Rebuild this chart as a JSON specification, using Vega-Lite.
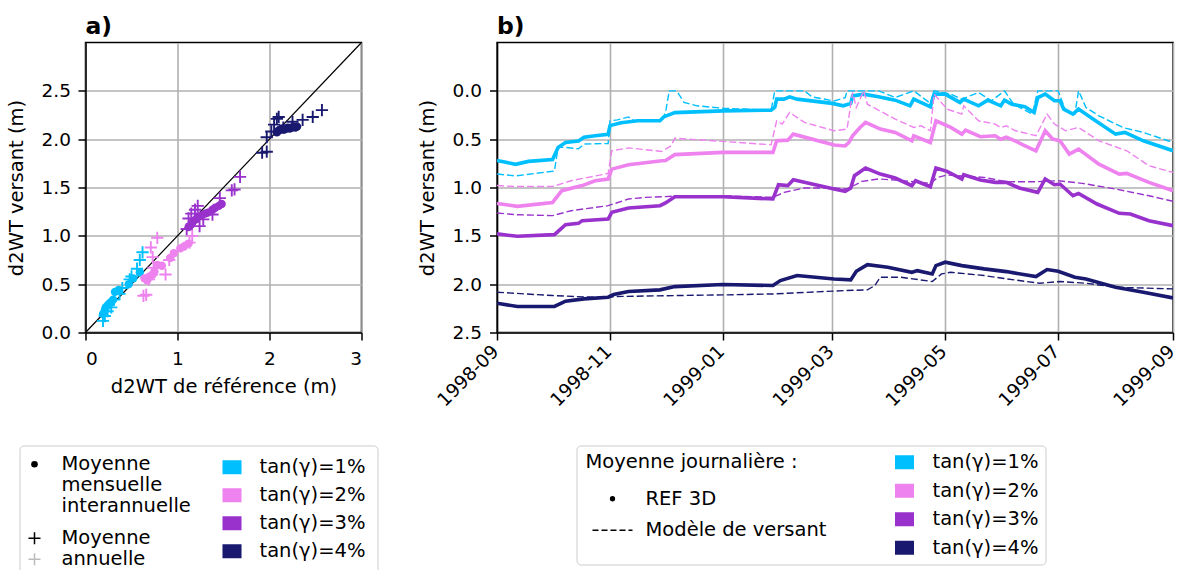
{
"$schema": "https://vega.github.io/schema/vega-lite/v6.json",
"padding": {"left": 4.5, "top": 13.5, "right": 0, "bottom": 0},
"background": "white",
"spacing": 135.5,
"bounds": "flush",
"resolve": {"scale": {"color": "independent", "fill": "independent", "stroke": "independent", "shape": "independent"}, "legend": {"color": "independent", "fill": "independent", "stroke": "independent", "shape": "independent"}},
"datasets": {
"mon": [
{"x":0.19,"y":0.19,"s":"tan(γ)=1%"},{"x":0.21,"y":0.23,"s":"tan(γ)=1%"},{"x":0.22,"y":0.26,"s":"tan(γ)=1%"},{"x":0.24,"y":0.28,"s":"tan(γ)=1%"},{"x":0.26,"y":0.30,"s":"tan(γ)=1%"},{"x":0.28,"y":0.31,"s":"tan(γ)=1%"},{"x":0.30,"y":0.34,"s":"tan(γ)=1%"},{"x":0.32,"y":0.42,"s":"tan(γ)=1%"},{"x":0.36,"y":0.44,"s":"tan(γ)=1%"},{"x":0.47,"y":0.50,"s":"tan(γ)=1%"},{"x":0.52,"y":0.56,"s":"tan(γ)=1%"},{"x":0.59,"y":0.62,"s":"tan(γ)=1%"},
{"x":0.64,"y":0.56,"s":"tan(γ)=2%"},{"x":0.67,"y":0.54,"s":"tan(γ)=2%"},{"x":0.70,"y":0.58,"s":"tan(γ)=2%"},{"x":0.73,"y":0.60,"s":"tan(γ)=2%"},{"x":0.75,"y":0.63,"s":"tan(γ)=2%"},{"x":0.78,"y":0.70,"s":"tan(γ)=2%"},{"x":0.83,"y":0.69,"s":"tan(γ)=2%"},{"x":0.92,"y":0.77,"s":"tan(γ)=2%"},{"x":0.96,"y":0.82,"s":"tan(γ)=2%"},{"x":1.03,"y":0.87,"s":"tan(γ)=2%"},{"x":1.07,"y":0.89,"s":"tan(γ)=2%"},{"x":1.12,"y":0.92,"s":"tan(γ)=2%"},
{"x":1.12,"y":1.09,"s":"tan(γ)=3%"},{"x":1.15,"y":1.12,"s":"tan(γ)=3%"},{"x":1.17,"y":1.15,"s":"tan(γ)=3%"},{"x":1.20,"y":1.17,"s":"tan(γ)=3%"},{"x":1.22,"y":1.20,"s":"tan(γ)=3%"},{"x":1.26,"y":1.21,"s":"tan(γ)=3%"},{"x":1.30,"y":1.23,"s":"tan(γ)=3%"},{"x":1.33,"y":1.24,"s":"tan(γ)=3%"},{"x":1.38,"y":1.27,"s":"tan(γ)=3%"},{"x":1.41,"y":1.29,"s":"tan(γ)=3%"},{"x":1.45,"y":1.31,"s":"tan(γ)=3%"},{"x":1.48,"y":1.33,"s":"tan(γ)=3%"},
{"x":2.08,"y":2.07,"s":"tan(γ)=4%"},{"x":2.10,"y":2.09,"s":"tan(γ)=4%"},{"x":2.12,"y":2.10,"s":"tan(γ)=4%"},{"x":2.14,"y":2.11,"s":"tan(γ)=4%"},{"x":2.16,"y":2.10,"s":"tan(γ)=4%"},{"x":2.18,"y":2.11,"s":"tan(γ)=4%"},{"x":2.20,"y":2.12,"s":"tan(γ)=4%"},{"x":2.22,"y":2.11,"s":"tan(γ)=4%"},{"x":2.24,"y":2.12,"s":"tan(γ)=4%"},{"x":2.26,"y":2.13,"s":"tan(γ)=4%"},{"x":2.28,"y":2.12,"s":"tan(γ)=4%"},{"x":2.30,"y":2.13,"s":"tan(γ)=4%"}
],
"ann": [
{"x":0.19,"y":0.12,"s":"tan(γ)=1%"},{"x":0.21,"y":0.17,"s":"tan(γ)=1%"},{"x":0.24,"y":0.22,"s":"tan(γ)=1%"},{"x":0.28,"y":0.26,"s":"tan(γ)=1%"},{"x":0.31,"y":0.34,"s":"tan(γ)=1%"},{"x":0.37,"y":0.40,"s":"tan(γ)=1%"},{"x":0.40,"y":0.46,"s":"tan(γ)=1%"},{"x":0.48,"y":0.55,"s":"tan(γ)=1%"},{"x":0.50,"y":0.58,"s":"tan(γ)=1%"},{"x":0.56,"y":0.66,"s":"tan(γ)=1%"},{"x":0.59,"y":0.75,"s":"tan(γ)=1%"},{"x":0.62,"y":0.83,"s":"tan(γ)=1%"},
{"x":0.63,"y":0.38,"s":"tan(γ)=2%"},{"x":0.66,"y":0.39,"s":"tan(γ)=2%"},{"x":0.69,"y":0.55,"s":"tan(γ)=2%"},{"x":0.72,"y":0.60,"s":"tan(γ)=2%"},{"x":0.74,"y":0.67,"s":"tan(γ)=2%"},{"x":0.73,"y":0.78,"s":"tan(γ)=2%"},{"x":0.71,"y":0.88,"s":"tan(γ)=2%"},{"x":0.78,"y":0.98,"s":"tan(γ)=2%"},{"x":0.87,"y":0.60,"s":"tan(γ)=2%"},{"x":0.91,"y":0.75,"s":"tan(γ)=2%"},{"x":1.13,"y":0.93,"s":"tan(γ)=2%"},{"x":1.16,"y":1.00,"s":"tan(γ)=2%"},
{"x":1.10,"y":1.07,"s":"tan(γ)=3%"},{"x":1.12,"y":1.18,"s":"tan(γ)=3%"},{"x":1.15,"y":1.23,"s":"tan(γ)=3%"},{"x":1.19,"y":1.27,"s":"tan(γ)=3%"},{"x":1.22,"y":1.31,"s":"tan(γ)=3%"},{"x":1.24,"y":1.10,"s":"tan(γ)=3%"},{"x":1.28,"y":1.17,"s":"tan(γ)=3%"},{"x":1.38,"y":1.22,"s":"tan(γ)=3%"},{"x":1.46,"y":1.39,"s":"tan(γ)=3%"},{"x":1.59,"y":1.47,"s":"tan(γ)=3%"},{"x":1.62,"y":1.48,"s":"tan(γ)=3%"},{"x":1.68,"y":1.61,"s":"tan(γ)=3%"},
{"x":1.92,"y":1.86,"s":"tan(γ)=4%"},{"x":1.97,"y":1.87,"s":"tan(γ)=4%"},{"x":1.97,"y":2.02,"s":"tan(γ)=4%"},{"x":2.02,"y":2.08,"s":"tan(γ)=4%"},{"x":2.05,"y":2.15,"s":"tan(γ)=4%"},{"x":2.08,"y":2.21,"s":"tan(γ)=4%"},{"x":2.10,"y":2.23,"s":"tan(γ)=4%"},{"x":2.15,"y":2.12,"s":"tan(γ)=4%"},{"x":2.25,"y":2.18,"s":"tan(γ)=4%"},{"x":2.36,"y":2.20,"s":"tan(γ)=4%"},{"x":2.47,"y":2.23,"s":"tan(γ)=4%"},{"x":2.57,"y":2.30,"s":"tan(γ)=4%"}
],
"legA1": [{"k1":"Moyenne"},{"k1":"mensuelle"},{"k1":"interannuelle"}],
"legA2": [{"k2":"Moyenne"},{"k2":"annuelle"}],
"legB": [{"t":"REF 3D"},{"t":"Modèle de versant"}],
"ref": [
{"d":"1998-09-01","v":0.72,"s":"tan(γ)=1%"},{"d":"1998-09-11","v":0.76,"s":"tan(γ)=1%"},{"d":"1998-09-18","v":0.73,"s":"tan(γ)=1%"},{"d":"1998-10-01","v":0.71,"s":"tan(γ)=1%"},{"d":"1998-10-04","v":0.585,"s":"tan(γ)=1%"},{"d":"1998-10-08","v":0.535,"s":"tan(γ)=1%"},{"d":"1998-10-15","v":0.52,"s":"tan(γ)=1%"},{"d":"1998-10-18","v":0.48,"s":"tan(γ)=1%"},{"d":"1998-10-24","v":0.465,"s":"tan(γ)=1%"},{"d":"1998-10-31","v":0.45,"s":"tan(γ)=1%"},{"d":"1998-11-01","v":0.36,"s":"tan(γ)=1%"},{"d":"1998-11-07","v":0.33,"s":"tan(γ)=1%"},{"d":"1998-11-16","v":0.31,"s":"tan(γ)=1%"},{"d":"1998-11-28","v":0.31,"s":"tan(γ)=1%"},{"d":"1998-11-30","v":0.27,"s":"tan(γ)=1%"},{"d":"1998-12-06","v":0.225,"s":"tan(γ)=1%"},{"d":"1999-01-01","v":0.207,"s":"tan(γ)=1%"},{"d":"1999-01-27","v":0.2,"s":"tan(γ)=1%"},{"d":"1999-01-29","v":0.17,"s":"tan(γ)=1%"},{"d":"1999-01-30","v":0.086,"s":"tan(γ)=1%"},{"d":"1999-02-03","v":0.086,"s":"tan(γ)=1%"},{"d":"1999-02-06","v":0.062,"s":"tan(γ)=1%"},{"d":"1999-02-10","v":0.086,"s":"tan(γ)=1%"},{"d":"1999-03-01","v":0.13,"s":"tan(γ)=1%"},{"d":"1999-03-07","v":0.155,"s":"tan(γ)=1%"},{"d":"1999-03-11","v":0.13,"s":"tan(γ)=1%"},{"d":"1999-03-12","v":0.052,"s":"tan(γ)=1%"},{"d":"1999-03-18","v":0.034,"s":"tan(γ)=1%"},{"d":"1999-03-26","v":0.062,"s":"tan(γ)=1%"},{"d":"1999-04-04","v":0.096,"s":"tan(γ)=1%"},{"d":"1999-04-12","v":0.155,"s":"tan(γ)=1%"},{"d":"1999-04-14","v":0.086,"s":"tan(γ)=1%"},{"d":"1999-04-23","v":0.165,"s":"tan(γ)=1%"},{"d":"1999-04-25","v":0.034,"s":"tan(γ)=1%"},{"d":"1999-05-01","v":0.034,"s":"tan(γ)=1%"},{"d":"1999-05-09","v":0.12,"s":"tan(γ)=1%"},{"d":"1999-05-11","v":0.086,"s":"tan(γ)=1%"},{"d":"1999-05-19","v":0.155,"s":"tan(γ)=1%"},{"d":"1999-05-24","v":0.096,"s":"tan(γ)=1%"},{"d":"1999-05-31","v":0.155,"s":"tan(γ)=1%"},{"d":"1999-06-02","v":0.096,"s":"tan(γ)=1%"},{"d":"1999-06-06","v":0.138,"s":"tan(γ)=1%"},{"d":"1999-06-13","v":0.165,"s":"tan(γ)=1%"},{"d":"1999-06-18","v":0.224,"s":"tan(γ)=1%"},{"d":"1999-06-20","v":0.069,"s":"tan(γ)=1%"},{"d":"1999-06-24","v":0.034,"s":"tan(γ)=1%"},{"d":"1999-06-29","v":0.103,"s":"tan(γ)=1%"},{"d":"1999-07-02","v":0.103,"s":"tan(γ)=1%"},{"d":"1999-07-04","v":0.189,"s":"tan(γ)=1%"},{"d":"1999-07-09","v":0.241,"s":"tan(γ)=1%"},{"d":"1999-07-12","v":0.189,"s":"tan(γ)=1%"},{"d":"1999-07-20","v":0.293,"s":"tan(γ)=1%"},{"d":"1999-08-01","v":0.448,"s":"tan(γ)=1%"},{"d":"1999-08-06","v":0.43,"s":"tan(γ)=1%"},{"d":"1999-08-16","v":0.517,"s":"tan(γ)=1%"},{"d":"1999-09-01","v":0.62,"s":"tan(γ)=1%"},
{"d":"1998-09-01","v":1.165,"s":"tan(γ)=2%"},{"d":"1998-09-12","v":1.195,"s":"tan(γ)=2%"},{"d":"1998-10-01","v":1.155,"s":"tan(γ)=2%"},{"d":"1998-10-06","v":1.033,"s":"tan(γ)=2%"},{"d":"1998-10-17","v":0.98,"s":"tan(γ)=2%"},{"d":"1998-10-24","v":0.93,"s":"tan(γ)=2%"},{"d":"1998-10-31","v":0.912,"s":"tan(γ)=2%"},{"d":"1998-11-02","v":0.81,"s":"tan(γ)=2%"},{"d":"1998-11-11","v":0.765,"s":"tan(γ)=2%"},{"d":"1998-11-29","v":0.723,"s":"tan(γ)=2%"},{"d":"1998-12-01","v":0.72,"s":"tan(γ)=2%"},{"d":"1998-12-06","v":0.66,"s":"tan(γ)=2%"},{"d":"1999-01-01","v":0.637,"s":"tan(γ)=2%"},{"d":"1999-01-28","v":0.637,"s":"tan(γ)=2%"},{"d":"1999-01-30","v":0.517,"s":"tan(γ)=2%"},{"d":"1999-02-05","v":0.51,"s":"tan(γ)=2%"},{"d":"1999-02-08","v":0.448,"s":"tan(γ)=2%"},{"d":"1999-03-02","v":0.56,"s":"tan(γ)=2%"},{"d":"1999-03-08","v":0.57,"s":"tan(γ)=2%"},{"d":"1999-03-10","v":0.534,"s":"tan(γ)=2%"},{"d":"1999-03-12","v":0.465,"s":"tan(γ)=2%"},{"d":"1999-03-16","v":0.379,"s":"tan(γ)=2%"},{"d":"1999-03-19","v":0.327,"s":"tan(γ)=2%"},{"d":"1999-03-27","v":0.396,"s":"tan(γ)=2%"},{"d":"1999-04-04","v":0.43,"s":"tan(γ)=2%"},{"d":"1999-04-13","v":0.517,"s":"tan(γ)=2%"},{"d":"1999-04-14","v":0.465,"s":"tan(γ)=2%"},{"d":"1999-04-23","v":0.534,"s":"tan(γ)=2%"},{"d":"1999-04-26","v":0.31,"s":"tan(γ)=2%"},{"d":"1999-05-04","v":0.379,"s":"tan(γ)=2%"},{"d":"1999-05-10","v":0.448,"s":"tan(γ)=2%"},{"d":"1999-05-12","v":0.406,"s":"tan(γ)=2%"},{"d":"1999-05-20","v":0.475,"s":"tan(γ)=2%"},{"d":"1999-05-28","v":0.465,"s":"tan(γ)=2%"},{"d":"1999-05-31","v":0.5,"s":"tan(γ)=2%"},{"d":"1999-06-03","v":0.48,"s":"tan(γ)=2%"},{"d":"1999-06-08","v":0.52,"s":"tan(γ)=2%"},{"d":"1999-06-12","v":0.558,"s":"tan(γ)=2%"},{"d":"1999-06-19","v":0.62,"s":"tan(γ)=2%"},{"d":"1999-06-24","v":0.413,"s":"tan(γ)=2%"},{"d":"1999-06-28","v":0.499,"s":"tan(γ)=2%"},{"d":"1999-07-02","v":0.517,"s":"tan(γ)=2%"},{"d":"1999-07-07","v":0.654,"s":"tan(γ)=2%"},{"d":"1999-07-12","v":0.603,"s":"tan(γ)=2%"},{"d":"1999-07-23","v":0.758,"s":"tan(γ)=2%"},{"d":"1999-08-03","v":0.861,"s":"tan(γ)=2%"},{"d":"1999-08-07","v":0.854,"s":"tan(γ)=2%"},{"d":"1999-08-19","v":0.947,"s":"tan(γ)=2%"},{"d":"1999-09-01","v":1.033,"s":"tan(γ)=2%"},
{"d":"1998-09-01","v":1.48,"s":"tan(γ)=3%"},{"d":"1998-09-12","v":1.505,"s":"tan(γ)=3%"},{"d":"1998-10-02","v":1.488,"s":"tan(γ)=3%"},{"d":"1998-10-08","v":1.384,"s":"tan(γ)=3%"},{"d":"1998-10-15","v":1.371,"s":"tan(γ)=3%"},{"d":"1998-10-17","v":1.343,"s":"tan(γ)=3%"},{"d":"1998-10-31","v":1.326,"s":"tan(γ)=3%"},{"d":"1998-11-02","v":1.257,"s":"tan(γ)=3%"},{"d":"1998-11-11","v":1.212,"s":"tan(γ)=3%"},{"d":"1998-11-28","v":1.188,"s":"tan(γ)=3%"},{"d":"1998-12-01","v":1.16,"s":"tan(γ)=3%"},{"d":"1998-12-06","v":1.095,"s":"tan(γ)=3%"},{"d":"1999-01-01","v":1.095,"s":"tan(γ)=3%"},{"d":"1999-01-28","v":1.119,"s":"tan(γ)=3%"},{"d":"1999-01-31","v":0.971,"s":"tan(γ)=3%"},{"d":"1999-02-05","v":0.981,"s":"tan(γ)=3%"},{"d":"1999-02-08","v":0.919,"s":"tan(γ)=3%"},{"d":"1999-03-02","v":1.016,"s":"tan(γ)=3%"},{"d":"1999-03-08","v":1.04,"s":"tan(γ)=3%"},{"d":"1999-03-11","v":1.005,"s":"tan(γ)=3%"},{"d":"1999-03-13","v":0.878,"s":"tan(γ)=3%"},{"d":"1999-03-19","v":0.799,"s":"tan(γ)=3%"},{"d":"1999-03-27","v":0.861,"s":"tan(γ)=3%"},{"d":"1999-04-04","v":0.902,"s":"tan(γ)=3%"},{"d":"1999-04-13","v":0.981,"s":"tan(γ)=3%"},{"d":"1999-04-15","v":0.93,"s":"tan(γ)=3%"},{"d":"1999-04-23","v":0.992,"s":"tan(γ)=3%"},{"d":"1999-04-26","v":0.799,"s":"tan(γ)=3%"},{"d":"1999-05-02","v":0.833,"s":"tan(γ)=3%"},{"d":"1999-05-10","v":0.912,"s":"tan(γ)=3%"},{"d":"1999-05-11","v":0.868,"s":"tan(γ)=3%"},{"d":"1999-05-20","v":0.923,"s":"tan(γ)=3%"},{"d":"1999-05-28","v":0.947,"s":"tan(γ)=3%"},{"d":"1999-06-03","v":0.947,"s":"tan(γ)=3%"},{"d":"1999-06-10","v":1.005,"s":"tan(γ)=3%"},{"d":"1999-06-20","v":1.05,"s":"tan(γ)=3%"},{"d":"1999-06-24","v":0.912,"s":"tan(γ)=3%"},{"d":"1999-06-29","v":0.971,"s":"tan(γ)=3%"},{"d":"1999-07-02","v":0.964,"s":"tan(γ)=3%"},{"d":"1999-07-09","v":1.085,"s":"tan(γ)=3%"},{"d":"1999-07-12","v":1.061,"s":"tan(γ)=3%"},{"d":"1999-07-22","v":1.171,"s":"tan(γ)=3%"},{"d":"1999-08-03","v":1.267,"s":"tan(γ)=3%"},{"d":"1999-08-09","v":1.274,"s":"tan(γ)=3%"},{"d":"1999-08-19","v":1.343,"s":"tan(γ)=3%"},{"d":"1999-09-01","v":1.395,"s":"tan(γ)=3%"},
{"d":"1998-09-01","v":2.197,"s":"tan(γ)=4%"},{"d":"1998-09-12","v":2.231,"s":"tan(γ)=4%"},{"d":"1998-10-02","v":2.231,"s":"tan(γ)=4%"},{"d":"1998-10-08","v":2.176,"s":"tan(γ)=4%"},{"d":"1998-10-18","v":2.152,"s":"tan(γ)=4%"},{"d":"1998-10-31","v":2.135,"s":"tan(γ)=4%"},{"d":"1998-11-03","v":2.107,"s":"tan(γ)=4%"},{"d":"1998-11-11","v":2.076,"s":"tan(γ)=4%"},{"d":"1998-11-28","v":2.059,"s":"tan(γ)=4%"},{"d":"1998-12-06","v":2.025,"s":"tan(γ)=4%"},{"d":"1999-01-01","v":2.004,"s":"tan(γ)=4%"},{"d":"1999-01-28","v":2.014,"s":"tan(γ)=4%"},{"d":"1999-02-01","v":1.963,"s":"tan(γ)=4%"},{"d":"1999-02-10","v":1.911,"s":"tan(γ)=4%"},{"d":"1999-03-02","v":1.946,"s":"tan(γ)=4%"},{"d":"1999-03-11","v":1.956,"s":"tan(γ)=4%"},{"d":"1999-03-14","v":1.866,"s":"tan(γ)=4%"},{"d":"1999-03-20","v":1.798,"s":"tan(γ)=4%"},{"d":"1999-03-31","v":1.825,"s":"tan(γ)=4%"},{"d":"1999-04-13","v":1.877,"s":"tan(γ)=4%"},{"d":"1999-04-16","v":1.86,"s":"tan(γ)=4%"},{"d":"1999-04-24","v":1.894,"s":"tan(γ)=4%"},{"d":"1999-04-26","v":1.808,"s":"tan(γ)=4%"},{"d":"1999-05-01","v":1.773,"s":"tan(γ)=4%"},{"d":"1999-05-10","v":1.808,"s":"tan(γ)=4%"},{"d":"1999-05-22","v":1.842,"s":"tan(γ)=4%"},{"d":"1999-06-03","v":1.87,"s":"tan(γ)=4%"},{"d":"1999-06-19","v":1.922,"s":"tan(γ)=4%"},{"d":"1999-06-25","v":1.849,"s":"tan(γ)=4%"},{"d":"1999-07-01","v":1.866,"s":"tan(γ)=4%"},{"d":"1999-07-10","v":1.928,"s":"tan(γ)=4%"},{"d":"1999-07-16","v":1.946,"s":"tan(γ)=4%"},{"d":"1999-08-01","v":2.032,"s":"tan(γ)=4%"},{"d":"1999-08-16","v":2.083,"s":"tan(γ)=4%"},{"d":"1999-09-01","v":2.142,"s":"tan(γ)=4%"}
],
"mod": [
{"d":"1998-09-01","v":0.86,"s":"tan(γ)=1%"},{"d":"1998-09-11","v":0.88,"s":"tan(γ)=1%"},{"d":"1998-10-02","v":0.83,"s":"tan(γ)=1%"},{"d":"1998-10-04","v":0.585,"s":"tan(γ)=1%"},{"d":"1998-10-08","v":0.585,"s":"tan(γ)=1%"},{"d":"1998-10-15","v":0.6,"s":"tan(γ)=1%"},{"d":"1998-10-18","v":0.55,"s":"tan(γ)=1%"},{"d":"1998-10-31","v":0.545,"s":"tan(γ)=1%"},{"d":"1998-11-01","v":0.31,"s":"tan(γ)=1%"},{"d":"1998-11-05","v":0.3,"s":"tan(γ)=1%"},{"d":"1998-11-11","v":0.27,"s":"tan(γ)=1%"},{"d":"1998-11-14","v":0.31,"s":"tan(γ)=1%"},{"d":"1998-11-29","v":0.3,"s":"tan(γ)=1%"},{"d":"1998-12-01","v":0.225,"s":"tan(γ)=1%"},{"d":"1998-12-03","v":0.0,"s":"tan(γ)=1%"},{"d":"1998-12-07","v":0.0,"s":"tan(γ)=1%"},{"d":"1998-12-11","v":0.12,"s":"tan(γ)=1%"},{"d":"1998-12-18","v":0.155,"s":"tan(γ)=1%"},{"d":"1999-01-01","v":0.18,"s":"tan(γ)=1%"},{"d":"1999-01-27","v":0.2,"s":"tan(γ)=1%"},{"d":"1999-01-29","v":0.0,"s":"tan(γ)=1%"},{"d":"1999-02-14","v":0.0,"s":"tan(γ)=1%"},{"d":"1999-02-18","v":0.062,"s":"tan(γ)=1%"},{"d":"1999-03-02","v":0.105,"s":"tan(γ)=1%"},{"d":"1999-03-08","v":0.07,"s":"tan(γ)=1%"},{"d":"1999-03-09","v":0.0,"s":"tan(γ)=1%"},{"d":"1999-03-20","v":0.0,"s":"tan(γ)=1%"},{"d":"1999-03-26","v":0.0,"s":"tan(γ)=1%"},{"d":"1999-04-04","v":0.069,"s":"tan(γ)=1%"},{"d":"1999-04-14","v":0.0,"s":"tan(γ)=1%"},{"d":"1999-04-23","v":0.13,"s":"tan(γ)=1%"},{"d":"1999-04-25","v":0.0,"s":"tan(γ)=1%"},{"d":"1999-05-04","v":0.034,"s":"tan(γ)=1%"},{"d":"1999-05-10","v":0.086,"s":"tan(γ)=1%"},{"d":"1999-05-19","v":0.017,"s":"tan(γ)=1%"},{"d":"1999-05-26","v":0.103,"s":"tan(γ)=1%"},{"d":"1999-06-02","v":0.0,"s":"tan(γ)=1%"},{"d":"1999-06-07","v":0.14,"s":"tan(γ)=1%"},{"d":"1999-06-17","v":0.24,"s":"tan(γ)=1%"},{"d":"1999-06-20","v":0.0,"s":"tan(γ)=1%"},{"d":"1999-06-26","v":0.0,"s":"tan(γ)=1%"},{"d":"1999-07-01","v":0.0,"s":"tan(γ)=1%"},{"d":"1999-07-05","v":0.207,"s":"tan(γ)=1%"},{"d":"1999-07-10","v":0.241,"s":"tan(γ)=1%"},{"d":"1999-07-12","v":0.0,"s":"tan(γ)=1%"},{"d":"1999-07-16","v":0.172,"s":"tan(γ)=1%"},{"d":"1999-07-23","v":0.258,"s":"tan(γ)=1%"},{"d":"1999-08-05","v":0.38,"s":"tan(γ)=1%"},{"d":"1999-08-16","v":0.43,"s":"tan(γ)=1%"},{"d":"1999-09-01","v":0.534,"s":"tan(γ)=1%"},
{"d":"1998-09-01","v":0.98,"s":"tan(γ)=2%"},{"d":"1998-09-11","v":0.99,"s":"tan(γ)=2%"},{"d":"1998-10-01","v":0.99,"s":"tan(γ)=2%"},{"d":"1998-10-11","v":0.93,"s":"tan(γ)=2%"},{"d":"1998-10-31","v":0.855,"s":"tan(γ)=2%"},{"d":"1998-11-02","v":0.62,"s":"tan(γ)=2%"},{"d":"1998-11-11","v":0.59,"s":"tan(γ)=2%"},{"d":"1998-11-29","v":0.627,"s":"tan(γ)=2%"},{"d":"1998-12-04","v":0.568,"s":"tan(γ)=2%"},{"d":"1998-12-06","v":0.49,"s":"tan(γ)=2%"},{"d":"1999-01-01","v":0.523,"s":"tan(γ)=2%"},{"d":"1999-01-27","v":0.558,"s":"tan(γ)=2%"},{"d":"1999-01-30","v":0.31,"s":"tan(γ)=2%"},{"d":"1999-02-02","v":0.344,"s":"tan(γ)=2%"},{"d":"1999-02-06","v":0.224,"s":"tan(γ)=2%"},{"d":"1999-02-14","v":0.327,"s":"tan(γ)=2%"},{"d":"1999-03-02","v":0.413,"s":"tan(γ)=2%"},{"d":"1999-03-09","v":0.396,"s":"tan(γ)=2%"},{"d":"1999-03-12","v":0.017,"s":"tan(γ)=2%"},{"d":"1999-03-14","v":0.172,"s":"tan(γ)=2%"},{"d":"1999-03-18","v":0.0,"s":"tan(γ)=2%"},{"d":"1999-03-20","v":0.138,"s":"tan(γ)=2%"},{"d":"1999-04-04","v":0.293,"s":"tan(γ)=2%"},{"d":"1999-04-14","v":0.379,"s":"tan(γ)=2%"},{"d":"1999-04-18","v":0.362,"s":"tan(γ)=2%"},{"d":"1999-04-23","v":0.413,"s":"tan(γ)=2%"},{"d":"1999-04-25","v":0.034,"s":"tan(γ)=2%"},{"d":"1999-05-02","v":0.189,"s":"tan(γ)=2%"},{"d":"1999-05-10","v":0.241,"s":"tan(γ)=2%"},{"d":"1999-05-11","v":0.155,"s":"tan(γ)=2%"},{"d":"1999-05-19","v":0.31,"s":"tan(γ)=2%"},{"d":"1999-05-28","v":0.344,"s":"tan(γ)=2%"},{"d":"1999-05-31","v":0.38,"s":"tan(γ)=2%"},{"d":"1999-06-03","v":0.362,"s":"tan(γ)=2%"},{"d":"1999-06-08","v":0.413,"s":"tan(γ)=2%"},{"d":"1999-06-19","v":0.465,"s":"tan(γ)=2%"},{"d":"1999-06-25","v":0.241,"s":"tan(γ)=2%"},{"d":"1999-06-29","v":0.344,"s":"tan(γ)=2%"},{"d":"1999-07-05","v":0.413,"s":"tan(γ)=2%"},{"d":"1999-07-12","v":0.379,"s":"tan(γ)=2%"},{"d":"1999-07-23","v":0.517,"s":"tan(γ)=2%"},{"d":"1999-08-07","v":0.62,"s":"tan(γ)=2%"},{"d":"1999-08-19","v":0.775,"s":"tan(γ)=2%"},{"d":"1999-09-01","v":0.844,"s":"tan(γ)=2%"},
{"d":"1998-09-01","v":1.264,"s":"tan(γ)=3%"},{"d":"1998-09-11","v":1.281,"s":"tan(γ)=3%"},{"d":"1998-10-01","v":1.291,"s":"tan(γ)=3%"},{"d":"1998-10-11","v":1.24,"s":"tan(γ)=3%"},{"d":"1998-10-31","v":1.188,"s":"tan(γ)=3%"},{"d":"1998-11-11","v":1.119,"s":"tan(γ)=3%"},{"d":"1998-11-20","v":1.102,"s":"tan(γ)=3%"},{"d":"1998-12-06","v":1.09,"s":"tan(γ)=3%"},{"d":"1999-01-01","v":1.085,"s":"tan(γ)=3%"},{"d":"1999-01-28","v":1.102,"s":"tan(γ)=3%"},{"d":"1999-02-03","v":1.05,"s":"tan(γ)=3%"},{"d":"1999-02-14","v":1.005,"s":"tan(γ)=3%"},{"d":"1999-03-02","v":1.005,"s":"tan(γ)=3%"},{"d":"1999-03-09","v":1.016,"s":"tan(γ)=3%"},{"d":"1999-03-17","v":0.937,"s":"tan(γ)=3%"},{"d":"1999-03-26","v":0.912,"s":"tan(γ)=3%"},{"d":"1999-04-04","v":0.923,"s":"tan(γ)=3%"},{"d":"1999-04-23","v":0.957,"s":"tan(γ)=3%"},{"d":"1999-04-27","v":0.895,"s":"tan(γ)=3%"},{"d":"1999-05-02","v":0.871,"s":"tan(γ)=3%"},{"d":"1999-05-22","v":0.895,"s":"tan(γ)=3%"},{"d":"1999-06-03","v":0.94,"s":"tan(γ)=3%"},{"d":"1999-06-19","v":0.94,"s":"tan(γ)=3%"},{"d":"1999-07-01","v":0.93,"s":"tan(γ)=3%"},{"d":"1999-07-14","v":0.957,"s":"tan(γ)=3%"},{"d":"1999-08-01","v":1.016,"s":"tan(γ)=3%"},{"d":"1999-08-19","v":1.085,"s":"tan(γ)=3%"},{"d":"1999-09-01","v":1.143,"s":"tan(γ)=3%"},
{"d":"1998-09-01","v":2.083,"s":"tan(γ)=4%"},{"d":"1998-10-01","v":2.118,"s":"tan(γ)=4%"},{"d":"1998-10-31","v":2.142,"s":"tan(γ)=4%"},{"d":"1998-11-03","v":2.128,"s":"tan(γ)=4%"},{"d":"1998-12-06","v":2.118,"s":"tan(γ)=4%"},{"d":"1999-01-01","v":2.111,"s":"tan(γ)=4%"},{"d":"1999-01-28","v":2.101,"s":"tan(γ)=4%"},{"d":"1999-03-08","v":2.066,"s":"tan(γ)=4%"},{"d":"1999-03-20","v":2.059,"s":"tan(γ)=4%"},{"d":"1999-03-24","v":2.014,"s":"tan(γ)=4%"},{"d":"1999-03-27","v":1.928,"s":"tan(γ)=4%"},{"d":"1999-04-07","v":1.928,"s":"tan(γ)=4%"},{"d":"1999-04-24","v":1.973,"s":"tan(γ)=4%"},{"d":"1999-04-29","v":1.894,"s":"tan(γ)=4%"},{"d":"1999-05-04","v":1.877,"s":"tan(γ)=4%"},{"d":"1999-05-22","v":1.911,"s":"tan(γ)=4%"},{"d":"1999-06-03","v":1.945,"s":"tan(γ)=4%"},{"d":"1999-06-21","v":1.99,"s":"tan(γ)=4%"},{"d":"1999-07-02","v":1.973,"s":"tan(γ)=4%"},{"d":"1999-07-16","v":1.99,"s":"tan(γ)=4%"},{"d":"1999-08-01","v":2.032,"s":"tan(γ)=4%"},{"d":"1999-09-01","v":2.049,"s":"tan(γ)=4%"}
]
},
"hconcat": [
{
"width": 276, "height": 290,
"title": {"text": "a)", "baseline": "alphabetic", "offset": -15, "frame": "group", "anchor": "start"},
"layer": [
{"data": {"values": [{"x": 0, "y": 0}, {"x": 3, "y": 3}]},
 "mark": {"type": "line", "color": "black", "strokeWidth": 1.2, "clip": true},
 "encoding": {
  "x": {"field": "x", "type": "quantitative", "scale": {"domain": [0, 3], "nice": false, "zero": false}, "axis": {"values": [0, 1, 2, 3], "format": "d", "title": "d2WT de référence (m)", "labelPadding": 9, "titlePadding": 10}},
  "y": {"field": "y", "type": "quantitative", "scale": {"domain": [0, 3], "nice": false, "zero": false}, "axis": {"values": [0, 0.5, 1, 1.5, 2, 2.5], "format": ".1f", "title": "d2WT versant (m)", "labelPadding": 7.5, "titlePadding": 15}}
 }},
{"data": {"name": "mon"},
 "mark": {"type": "point", "filled": true, "shape": "circle", "size": 70, "opacity": 1},
 "encoding": {
  "x": {"field": "x", "type": "quantitative"},
  "y": {"field": "y", "type": "quantitative"},
  "color": {"field": "s", "type": "nominal", "scale": {"range": ["#00bfff", "#ee82ee", "#9932cc", "#191970"]}, "legend": null}
 }},
{"data": {"name": "ann"},
 "mark": {"type": "point", "filled": false, "shape": "M-1,0H1M0,-1V1", "size": 150, "strokeWidth": 1.9, "opacity": 1},
 "encoding": {
  "x": {"field": "x", "type": "quantitative"},
  "y": {"field": "y", "type": "quantitative"},
  "color": {"field": "s", "type": "nominal", "legend": null}
 }},
{"data": {"name": "mon"},
 "mark": {"type": "point", "filled": true, "shape": "M-1.36,-1H1.36V1H-1.36Z", "size": 0, "opacity": 1},
 "encoding": {
  "fill": {"field": "s", "type": "nominal", "scale": {"domain": ["tan(γ)=1%", "tan(γ)=2%", "tan(γ)=3%", "tan(γ)=4%"], "range": ["#00bfff", "#ee82ee", "#9932cc", "#191970"]}, "legend": {"orient": "none", "legendX": -66, "legendY": 403, "direction": "vertical", "title": null, "symbolType": "M-1.36,-1H1.36V1H-1.36Z", "symbolSize": 196, "symbolStrokeWidth": 0, "symbolOffset": 190.75, "labelOffset": 17.75, "rowPadding": 7, "padding": 12, "strokeColor": "#cccccc", "cornerRadius": 4}}
 }},
{"data": {"name": "legA1"},
 "mark": {"type": "point", "filled": true, "fill": "black", "size": 0, "opacity": 1},
 "encoding": {
  "shape": {"field": "k1", "type": "nominal", "scale": {"domain": ["Moyenne", "mensuelle", "interannuelle"], "range": ["circle", "M0,0", "M0,0"]}, "legend": {"orient": "none", "legendX": -60.75, "legendY": 412, "direction": "vertical", "title": null, "symbolSize": 44, "symbolStrokeWidth": 0, "symbolOffset": 0, "labelOffset": 17.25, "rowPadding": 0, "padding": 0}}
 }},
{"data": {"name": "legA2"},
 "mark": {"type": "point", "filled": false, "size": 0, "opacity": 1, "strokeWidth": 1.5},
 "encoding": {
  "stroke": {"field": "k2", "type": "nominal", "scale": {"domain": ["Moyenne", "annuelle"], "range": ["black", "#bbbbbb"]}, "legend": {"orient": "none", "legendX": -60.75, "legendY": 486, "direction": "vertical", "title": null, "symbolType": "M-2,0H2M0,-2V2", "symbolSize": 36, "symbolStrokeWidth": 1.5, "symbolOffset": 0, "labelOffset": 17.25, "rowPadding": 0, "padding": 0}}
 }}
]
},
{
"width": 676, "height": 290,
"title": {"text": "b)", "baseline": "alphabetic", "offset": -15, "frame": "group", "anchor": "start"},
"layer": [
{"data": {"name": "ref"},
 "mark": {"type": "line", "strokeWidth": 3.6, "clip": true},
 "encoding": {
  "x": {"field": "d", "type": "temporal", "scale": {"type": "utc", "domain": [{"year": 1998, "month": 9, "date": 1, "utc": true}, {"year": 1999, "month": 9, "date": 1, "utc": true}]}, "axis": {"values": [{"year": 1998, "month": 9, "date": 1, "utc": true}, {"year": 1998, "month": 11, "date": 1, "utc": true}, {"year": 1999, "month": 1, "date": 1, "utc": true}, {"year": 1999, "month": 3, "date": 1, "utc": true}, {"year": 1999, "month": 5, "date": 1, "utc": true}, {"year": 1999, "month": 7, "date": 1, "utc": true}, {"year": 1999, "month": 9, "date": 1, "utc": true}], "format": "%Y-%m", "title": null, "labelAngle": -45, "labelAlign": "right", "labelBaseline": "middle", "labelPadding": 8, "labelOffset": -2}},
  "y": {"field": "v", "type": "quantitative", "scale": {"domain": [-0.5, 2.5], "reverse": true, "nice": false, "zero": false}, "axis": {"values": [0, 0.5, 1, 1.5, 2, 2.5], "format": ".1f", "title": "d2WT versant (m)", "labelPadding": 8, "titlePadding": 15}},
  "color": {"field": "s", "type": "nominal", "scale": {"range": ["#00bfff", "#ee82ee", "#9932cc", "#191970"]}, "legend": null},
  "detail": {"field": "s"}
 }},
{"data": {"name": "mod"},
 "mark": {"type": "line", "strokeWidth": 1.4, "strokeDash": [7, 3], "clip": true},
 "encoding": {
  "x": {"field": "d", "type": "temporal"},
  "y": {"field": "v", "type": "quantitative"},
  "color": {"field": "s", "type": "nominal", "legend": null},
  "detail": {"field": "s"}
 }},
{"data": {"name": "mod"},
 "mark": {"type": "point", "filled": true, "shape": "M-1.36,-1H1.36V1H-1.36Z", "size": 0, "opacity": 1},
 "encoding": {
  "fill": {"field": "s", "type": "nominal", "scale": {"domain": ["tan(γ)=1%", "tan(γ)=2%", "tan(γ)=3%", "tan(γ)=4%"], "range": ["#00bfff", "#ee82ee", "#9932cc", "#191970"]}, "legend": {"orient": "none", "legendX": 79.5, "legendY": 403, "direction": "vertical", "title": null, "symbolType": "M-1.36,-1H1.36V1H-1.36Z", "symbolSize": 196, "symbolStrokeWidth": 0, "symbolOffset": 311.25, "labelOffset": 18.25, "rowPadding": 7.5, "padding": 7, "strokeColor": "#cccccc", "cornerRadius": 4}}
 }},
{"data": {"name": "legB"},
 "mark": {"type": "point", "filled": true, "fill": "black", "stroke": "black", "strokeWidth": 1.3, "size": 0, "opacity": 1},
 "encoding": {
  "shape": {"field": "t", "type": "nominal", "scale": {"domain": ["REF 3D", "Modèle de versant"], "range": ["circle", "M-10,0H-7M-5.5,0H-2.5M-1,0H2M3.5,0H6.5M8,0H10"]}, "legend": {"orient": "none", "legendX": 88.5, "legendY": 410, "direction": "vertical", "title": "Moyenne journalière :", "titlePadding": 17, "symbolSize": 16, "symbolStrokeWidth": 1.3, "symbolOffset": 17.25, "labelOffset": 23.25, "rowPadding": 10.5, "padding": 0}}
 }}
]
}
],
"config": {
 "font": "DejaVu Sans",
 "view": {"stroke": "black", "strokeWidth": 1.5},
 "axis": {"labelFont": "DejaVu Sans", "titleFont": "DejaVu Sans", "labelColor": "black", "titleColor": "black", "titleFontWeight": "normal", "labelFontSize": 18.5, "titleFontSize": 19.5, "domainColor": "black", "domainWidth": 1.5, "tickColor": "black", "tickWidth": 1.5, "tickSize": 7.5, "gridColor": "#b0b0b0", "gridWidth": 1.6, "grid": true, "labelOverlap": false},
 "legend": {"labelFont": "DejaVu Sans", "titleFont": "DejaVu Sans", "labelFontSize": 19.5, "labelColor": "black", "titleColor": "black", "titleFontWeight": "normal", "titleFontSize": 19.5, "labelLimit": 0, "titleLimit": 0},
 "title": {"font": "DejaVu Sans", "fontSize": 23.5, "fontWeight": "bold", "anchor": "start", "color": "black"}
}
}
